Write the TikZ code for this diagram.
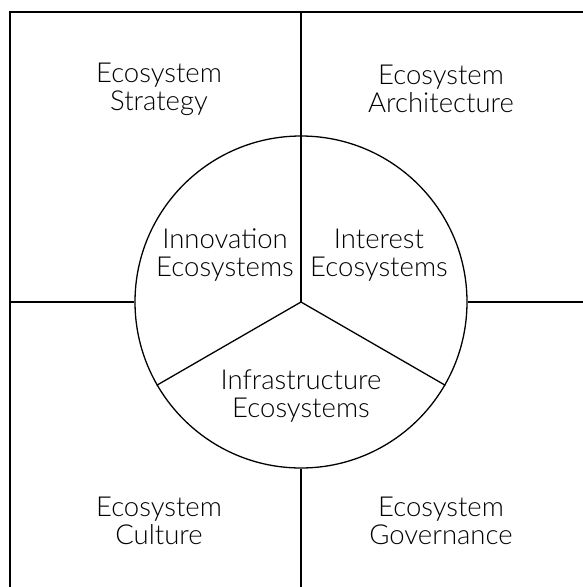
\documentclass[tikz,border=0pt]{standalone}
\usepackage{fontspec}
\setmainfont{Lato Light}
\begin{document}
\begin{tikzpicture}[x=1pt,y=-1pt,
  frame/.style={line width=1.6pt},
  rule/.style={line width=1.3pt},
  label/.style={align=center,font=\fontsize{27.5}{28}\selectfont,inner sep=0pt}]
\useasboundingbox (0,0) rectangle (582,587);
% outer frame (runs off the right and bottom edges)
\draw[frame] (10,600) -- (10,12) -- (600,12);
% circle and its three sectors
\coordinate (c) at (301,302);
\node[draw,circle,rule,minimum size=332pt,inner sep=0pt] (ring) at (c) {};
\draw[rule] (c) -- (ring.90);
\draw[rule] (c) -- (ring.210);
\draw[rule] (c) -- (ring.-30);
% quadrant dividers
\coordinate (top) at (301,12);
\coordinate (bot) at (301,600);
\coordinate (lft) at (10,302);
\coordinate (rgt) at (600,302);
\draw[rule] (top) -- (ring.north);
\draw[rule] (ring.south) -- (bot);
\draw[rule] (lft) -- (ring.west);
\draw[rule] (ring.east) -- (rgt);
% labels
\node[label] (strategy) at (159,89) {Ecosystem\\Strategy};
\node[label] (architecture) at (441,89) {Ecosystem\\Architecture};
\node[label] (innovation) at (225,255) {Innovation\\Ecosystems};
\node[label] (interest) at (379,255) {Interest\\Ecosystems};
\node[label] (infrastructure) at (301,396) {Infrastructure\\Ecosystems};
\node[label] (culture) at (159,521) {Ecosystem\\Culture};
\node[label] (governance) at (441,521) {Ecosystem\\Governance};
\end{tikzpicture}
\end{document}
